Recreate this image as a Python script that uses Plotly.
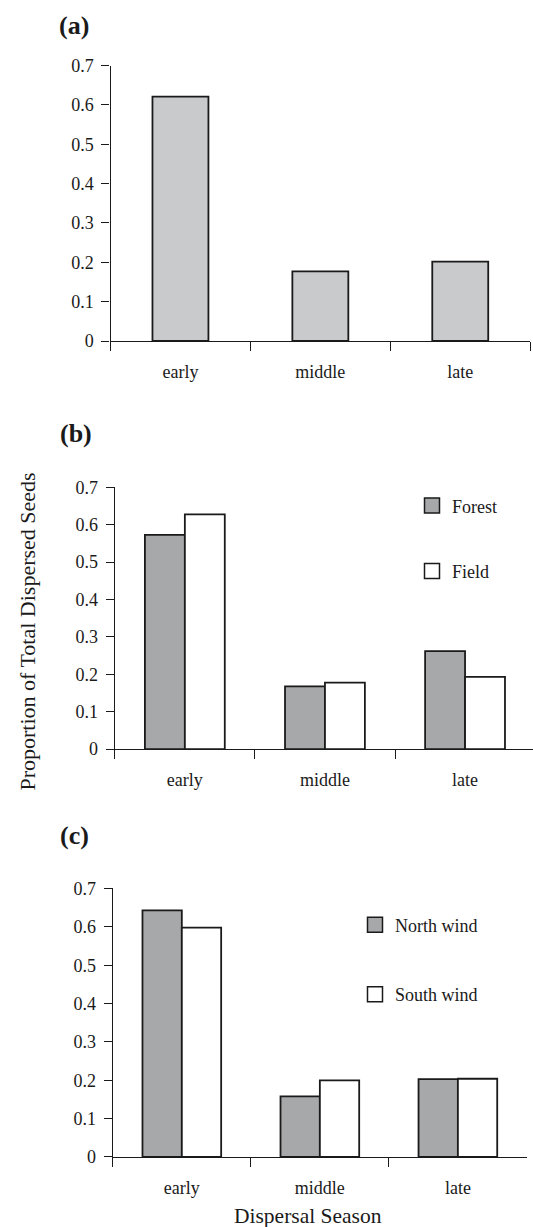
import plotly.graph_objects as go

# ---------------- data ----------------
seasons = ["early", "middle", "late"]
overall = [0.621, 0.177, 0.202]
forest = [0.573, 0.168, 0.262]
field = [0.628, 0.178, 0.193]
north_wind = [0.643, 0.158, 0.203]
south_wind = [0.598, 0.200, 0.204]
y_tick_vals = [0, 0.1, 0.2, 0.3, 0.4, 0.5, 0.6, 0.7]
y_tick_text = ["0", "0.1", "0.2", "0.3", "0.4", "0.5", "0.6", "0.7"]
panel_labels = ["(a)", "(b)", "(c)"]
y_title = "Proportion of Total Dispersed Seeds"
x_title = "Dispersal Season"

# ---------------- style ----------------
W = 533
H = 1237
# measured mapping between figure pixels and photographed pixels (vertical)
V_SCALE = 0.9835
V_OFF = 10.1
FONT = "Liberation Serif, Times New Roman, serif"
INK = "#1a1a1a"
LIGHT = "#c9cacc"
DARK = "#a7a8aa"
WHITE = "#ffffff"
EDGE = dict(color=INK, width=1.8)


def px_x(p):
    return p / W


def fig_y(p):
    return (p - V_OFF) / V_SCALE


def px_y(p):
    return 1 - fig_y(p) / H


fig = go.Figure()

# panel (a)
fig.add_trace(go.Bar(x=seasons, y=overall, marker=dict(color=LIGHT, line=EDGE),
                     width=0.4, offset=-0.2, showlegend=False, xaxis="x", yaxis="y"))
# panel (b)
fig.add_trace(go.Bar(x=seasons, y=forest, marker=dict(color=DARK, line=EDGE),
                     width=0.285, offset=-0.285, showlegend=False, xaxis="x2", yaxis="y2"))
fig.add_trace(go.Bar(x=seasons, y=field, marker=dict(color=WHITE, line=EDGE),
                     width=0.285, offset=0.0, showlegend=False, xaxis="x2", yaxis="y2"))
# panel (c)
fig.add_trace(go.Bar(x=seasons, y=north_wind, marker=dict(color=DARK, line=EDGE),
                     width=0.285, offset=-0.285, showlegend=False, xaxis="x3", yaxis="y3"))
fig.add_trace(go.Bar(x=seasons, y=south_wind, marker=dict(color=WHITE, line=EDGE),
                     width=0.285, offset=0.0, showlegend=False, xaxis="x3", yaxis="y3"))


# legend entries (square swatches)
def swatch(name, color, legend, group, xa, ya):
    fig.add_trace(go.Scatter(x=[None], y=[None], mode="markers", name=name,
                             marker=dict(symbol="square", size=15, color=color,
                                         line=dict(color=INK, width=1.5)),
                             legend=legend, legendgroup=group, xaxis=xa, yaxis=ya,
                             hoverinfo="skip"))


swatch("Forest", DARK, "legend", "f1", "x2", "y2")
swatch("Field", WHITE, "legend", "f2", "x2", "y2")
swatch("North wind", DARK, "legend2", "n1", "x3", "y3")
swatch("South wind", WHITE, "legend2", "n2", "x3", "y3")

tickfont = dict(family=FONT, size=18, color=INK)


def xaxis(domain, anchor, rng):
    return dict(domain=domain, anchor=anchor, type="category", categoryorder="array",
                categoryarray=seasons, range=rng, tickson="boundaries", ticks="outside",
                ticklen=9, tickwidth=1.2, tickcolor=INK, showline=True, linecolor=INK,
                linewidth=1.2, showgrid=False, zeroline=False, tickfont=tickfont,
                ticklabelstandoff=14, fixedrange=True)


def yaxis(domain, anchor):
    return dict(domain=domain, anchor=anchor, range=[0, 0.7], tickmode="array",
                tickvals=y_tick_vals, ticktext=y_tick_text, ticks="outside", ticklen=8,
                tickwidth=1.2, tickcolor=INK, showline=True, linecolor=INK, linewidth=1.2,
                showgrid=False, zeroline=False, tickfont=tickfont, ticklabelstandoff=4,
                fixedrange=True)


b_end = 2.5 - (535.1 - 533) / 140.1


def label(text, x, y, size, bold=False, angle=0):
    return dict(text=("<b>%s</b>" % text) if bold else text, x=px_x(x), y=px_y(y),
                xref="paper", yref="paper", xanchor="center", yanchor="middle",
                showarrow=False, textangle=angle, font=dict(family=FONT, size=size, color=INK))


fig.update_layout(
    width=W, height=H,
    margin=dict(l=0, r=0, t=0, b=0),
    paper_bgcolor="white", plot_bgcolor="white",
    font=dict(family=FONT, color=INK),
    xaxis=xaxis([px_x(110.5), px_x(530.2)], "y", [-0.5, 2.5]),
    yaxis=yaxis([px_y(341), px_y(65.7)], "x"),
    xaxis2=xaxis([px_x(114.8), 1.0], "y2", [-0.5, b_end]),
    yaxis2=yaxis([px_y(749), px_y(487.3)], "x2"),
    xaxis3=xaxis([px_x(112.8), px_x(526.9)], "y3", [-0.5, 2.5]),
    yaxis3=yaxis([px_y(1156.7), px_y(888.3)], "x3"),
    legend=dict(x=px_x(412), xanchor="left", y=1 - 485.2 / H, yanchor="top",
                font=dict(family=FONT, size=18, color=INK), tracegroupgap=39,
                bgcolor="rgba(0,0,0,0)", borderwidth=0, itemsizing="trace"),
    legend2=dict(x=px_x(355), xanchor="left", y=1 - 911.3 / H, yanchor="top",
                 font=dict(family=FONT, size=18, color=INK), tracegroupgap=43,
                 bgcolor="rgba(0,0,0,0)", borderwidth=0, itemsizing="trace"),
    showlegend=True,
    annotations=[
        label(panel_labels[0], 74, 26, 26, bold=True),
        label(panel_labels[1], 75.5, 433, 26, bold=True),
        label(panel_labels[2], 74, 835, 26, bold=True),
        label(y_title, 28, 631.5, 22, angle=-90),
        label(x_title, 307.5, 1216, 21.5),
    ],
)

fig.write_html("out.html", post_script="document.body.style.margin='0px';")
